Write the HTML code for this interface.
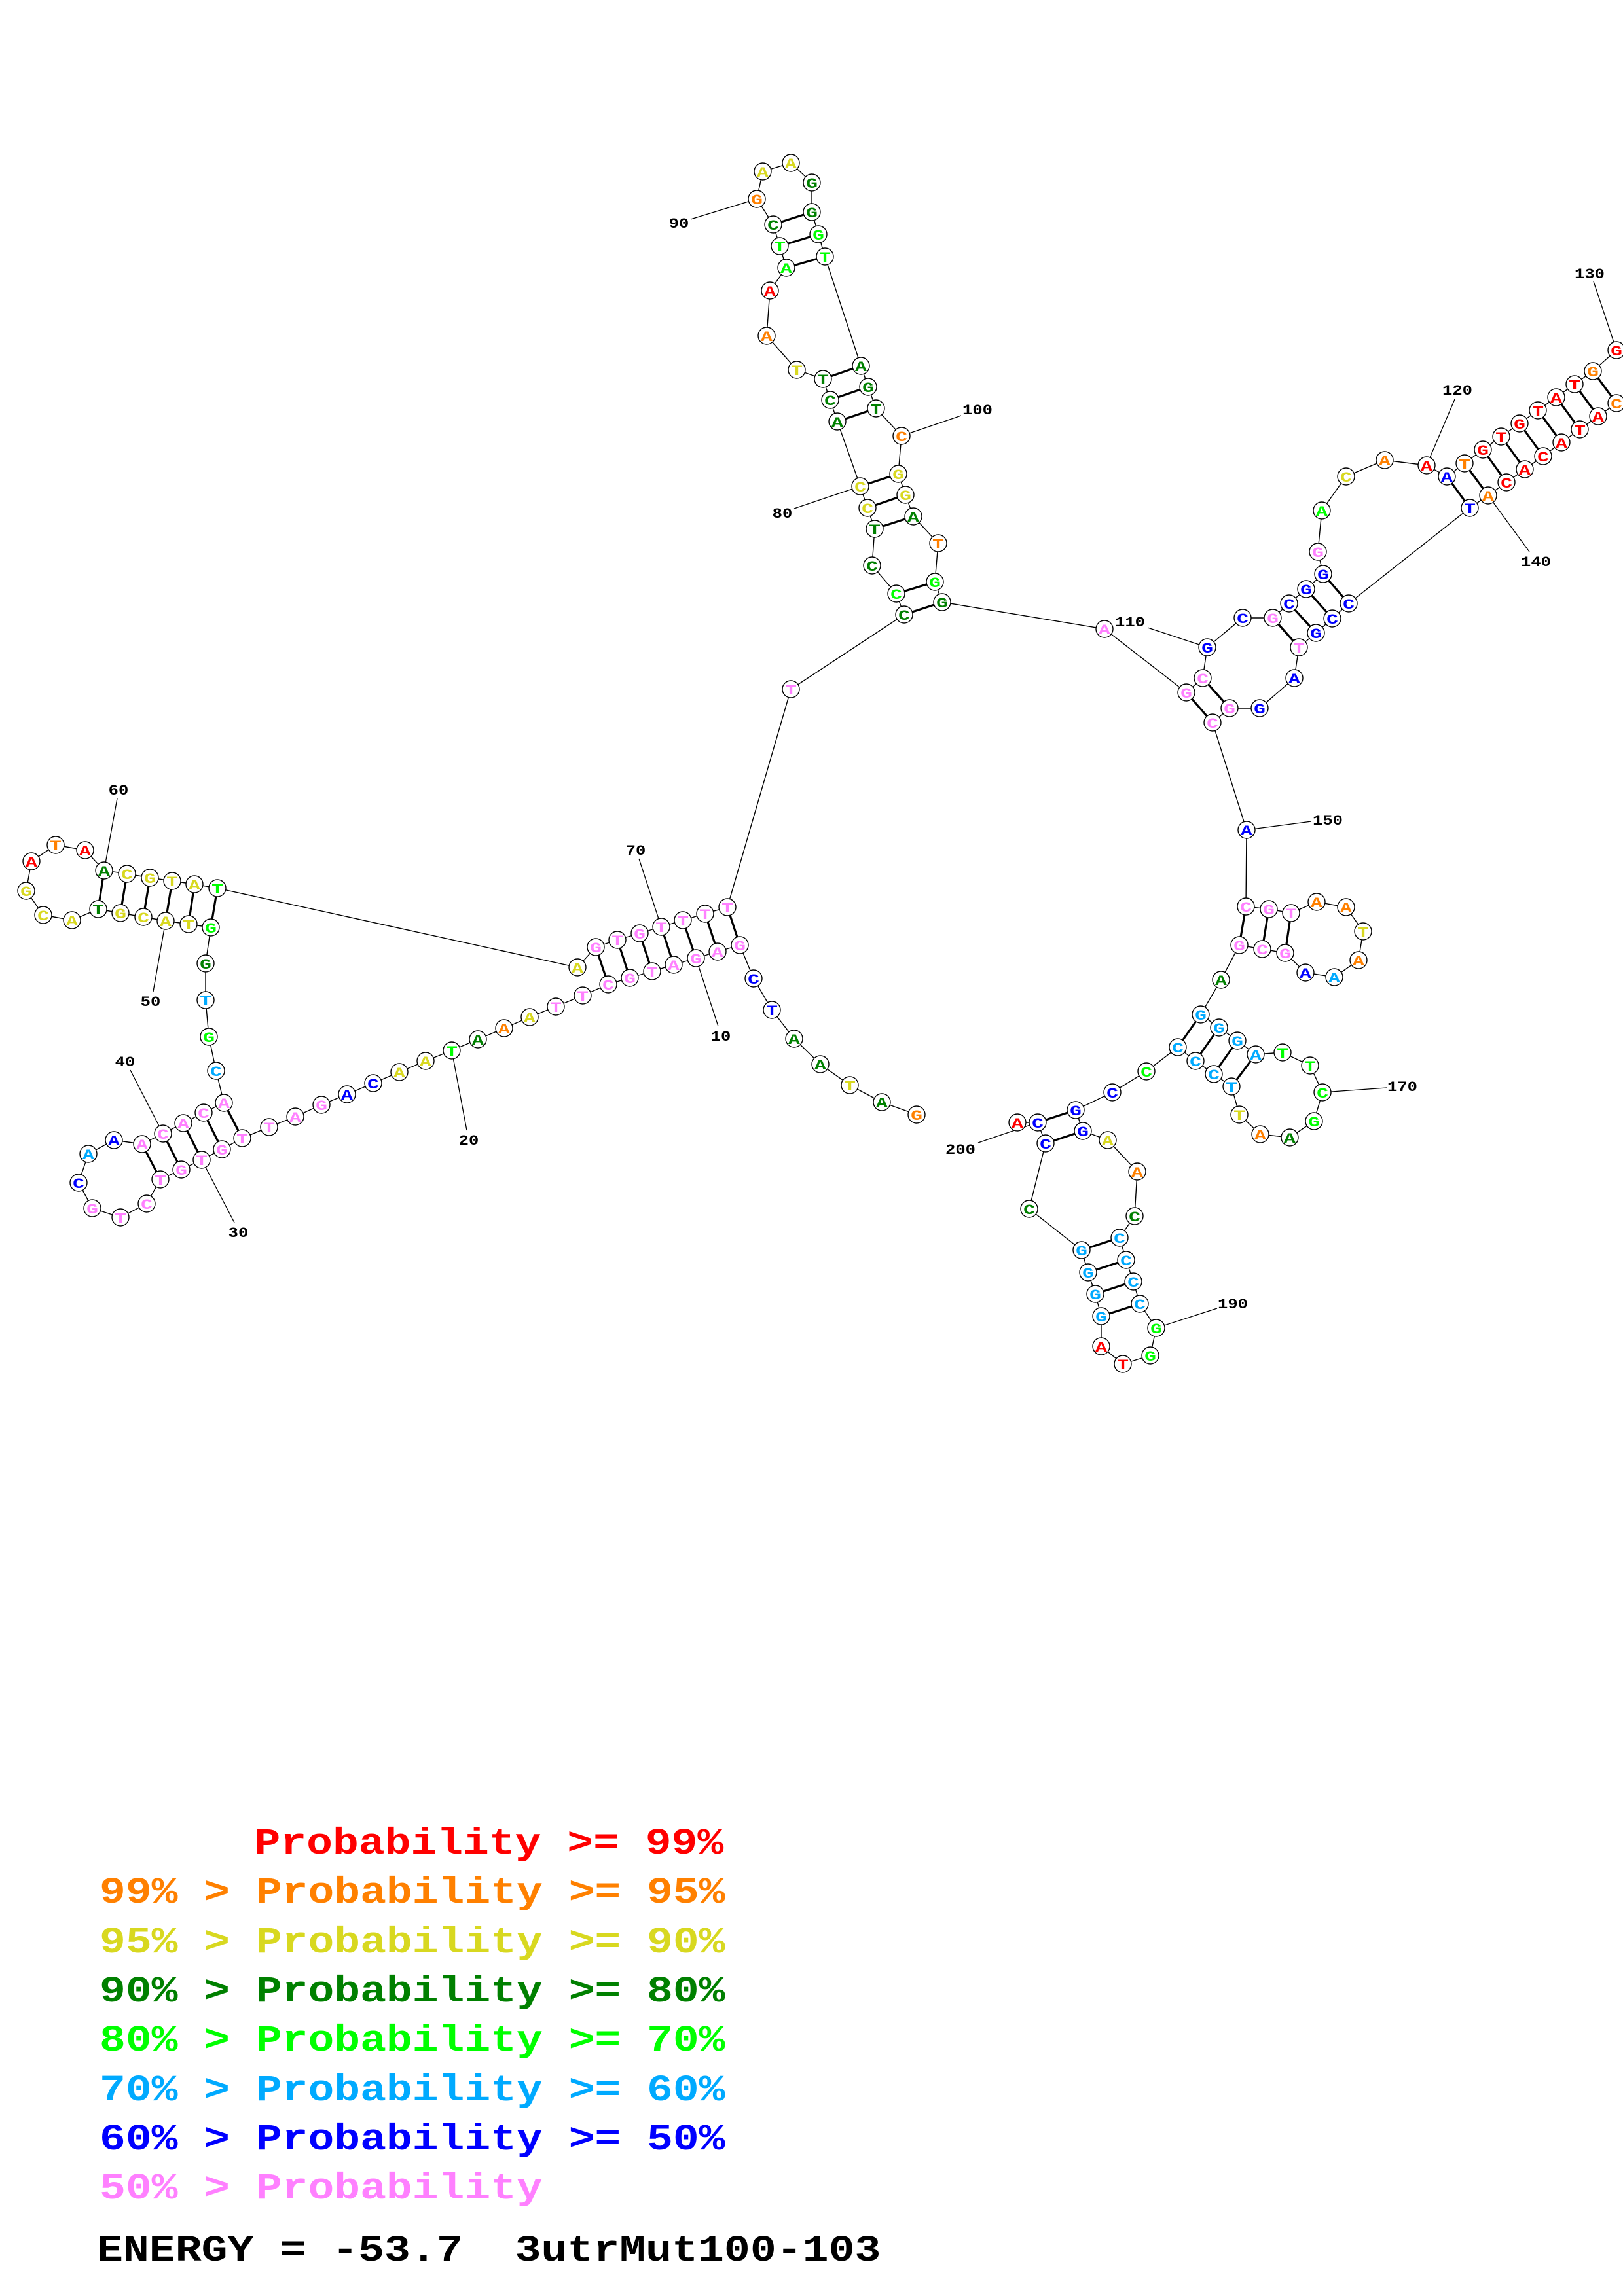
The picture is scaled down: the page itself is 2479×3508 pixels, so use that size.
<!DOCTYPE html>
<html><head><meta charset="utf-8">
<style>
html,body{margin:0;padding:0;background:#fff}
svg{display:block}
circle{fill:#fff;stroke:#000;stroke-width:1.4}
.n text{font:bold 22px "Liberation Mono",monospace;text-anchor:middle;transform-box:fill-box;transform-origin:center;transform:scaleX(1.35)}
.r{fill:#f00}.o{fill:#ff8000}.y{fill:#d8d820}.d{fill:#008000}.g{fill:#0f0}.c{fill:#0af}.b{fill:#00f}.p{fill:#ff80ff}
.l{font:bold 22px "Liberation Mono",monospace;text-anchor:middle;fill:#000;transform-box:fill-box;transform-origin:center;transform:scaleX(1.16)}
.t{font:bold 57px "Liberation Mono",monospace}
.bb{fill:none;stroke:#000;stroke-width:1.4}
.pr{stroke:#000;stroke-width:3.2}
.ln{stroke:#000;stroke-width:1.3}
</style></head><body>
<svg xmlns="http://www.w3.org/2000/svg" width="2479" height="3508" viewBox="0 0 2479 3508">
<rect width="2479" height="3508" fill="#fff"/>
<polyline class="bb" points="1400,1703 1347,1684 1298,1658 1253,1626 1213,1587 1179,1543 1151,1495 1130,1444 1096,1454 1063,1464 1029,1474 996,1484 962,1494 929,1504 890,1521 849,1538 809,1554 770,1571 730,1588 690,1605 650,1621 610,1638 570,1655 530,1672 491,1688 451,1706 411,1722 370,1739 339,1756 308,1772 277,1787 245,1802 224,1839 184,1860 141,1846 120,1807 135,1763 174,1742 217,1748 249,1732 280,1716 311,1700 342,1685 330,1636 319,1584 314,1528 314,1472 322,1417 288,1412 253,1407 219,1401 184,1395 150,1389 110,1406 66,1398 40,1361 48,1316 85,1291 130,1299 159,1330 194,1335 229,1341 263,1346 297,1351 332,1357 882,1478 910,1447 943,1436 977,1426 1010,1416 1043,1406 1077,1396 1111,1386 1208,1053 1381,939 1369,907 1332,864 1336,808 1325,776 1314,743 1279,644 1268,611 1257,579 1217,565 1171,513 1176,444 1201,409 1191,376 1181,343 1156,304 1165,262 1208,249 1240,279 1240,324 1250,358 1260,392 1315,559 1326,591 1338,624 1377,666 1372,724 1383,756 1395,789 1433,830 1428,889 1439,920 1687,961 1812,1058 1837,1036 1844,989 1898,944 1944,944 1969,922 1995,900 2021,877 2013,843 2019,780 2056,728 2115,703 2179,711 2210,728 2237,708 2265,687 2293,667 2321,647 2349,627 2377,607 2405,587 2433,567 2469,535 2510,555 2510,600 2469,616 2441,636 2413,656 2385,676 2357,697 2329,717 2301,737 2273,757 2245,776 2060,922 2035,945 2010,967 1984,989 1977,1036 1924,1082 1878,1082 1852,1104 1904,1268 1903,1385 1938,1389 1972,1395 2011,1378 2056,1386 2082,1423 2075,1467 2038,1493 1994,1486 1963,1456 1928,1450 1893,1444 1865,1497 1834,1550 1862,1570 1890,1590 1918,1611 1959,1608 2001,1628 2020,1669 2007,1713 1970,1738 1925,1733 1893,1703 1881,1660 1854,1641 1826,1621 1799,1600 1751,1637 1699,1669 1643,1696 1654,1728 1692,1742 1737,1790 1733,1858 1710,1891 1720,1925 1731,1958 1741,1992 1766,2029 1757,2071 1715,2084 1682,2057 1682,2011 1673,1977 1662,1944 1652,1910 1572,1847 1597,1747 1585,1715 1554,1715"/>
<g class="pr">
<line x1="1130" y1="1444" x2="1111" y2="1386"/><line x1="1096" y1="1454" x2="1077" y2="1396"/><line x1="1063" y1="1464" x2="1043" y2="1406"/><line x1="1029" y1="1474" x2="1010" y2="1416"/><line x1="996" y1="1484" x2="977" y2="1426"/><line x1="962" y1="1494" x2="943" y2="1436"/><line x1="929" y1="1504" x2="910" y2="1447"/>
<line x1="370" y1="1739" x2="342" y2="1685"/><line x1="339" y1="1756" x2="311" y2="1700"/><line x1="308" y1="1772" x2="280" y2="1716"/><line x1="277" y1="1787" x2="249" y2="1732"/><line x1="245" y1="1802" x2="217" y2="1748"/>
<line x1="322" y1="1417" x2="332" y2="1357"/><line x1="288" y1="1412" x2="297" y2="1351"/><line x1="253" y1="1407" x2="263" y2="1346"/><line x1="219" y1="1401" x2="229" y2="1341"/><line x1="184" y1="1395" x2="194" y2="1335"/><line x1="150" y1="1389" x2="159" y2="1330"/>
<line x1="1381" y1="939" x2="1439" y2="920"/><line x1="1369" y1="907" x2="1428" y2="889"/><line x1="1336" y1="808" x2="1395" y2="789"/><line x1="1325" y1="776" x2="1383" y2="756"/><line x1="1314" y1="743" x2="1372" y2="724"/><line x1="1279" y1="644" x2="1338" y2="624"/><line x1="1268" y1="611" x2="1326" y2="591"/><line x1="1257" y1="579" x2="1315" y2="559"/><line x1="1201" y1="409" x2="1260" y2="392"/><line x1="1191" y1="376" x2="1250" y2="358"/><line x1="1181" y1="343" x2="1240" y2="324"/>
<line x1="1812" y1="1058" x2="1852" y2="1104"/><line x1="1837" y1="1036" x2="1878" y2="1082"/><line x1="1944" y1="944" x2="1984" y2="989"/><line x1="1969" y1="922" x2="2010" y2="967"/><line x1="1995" y1="900" x2="2035" y2="945"/><line x1="2021" y1="877" x2="2060" y2="922"/>
<line x1="2210" y1="728" x2="2245" y2="776"/><line x1="2237" y1="708" x2="2273" y2="757"/><line x1="2265" y1="687" x2="2301" y2="737"/><line x1="2293" y1="667" x2="2329" y2="717"/><line x1="2321" y1="647" x2="2357" y2="697"/><line x1="2349" y1="627" x2="2385" y2="676"/><line x1="2377" y1="607" x2="2413" y2="656"/><line x1="2405" y1="587" x2="2441" y2="636"/><line x1="2433" y1="567" x2="2469" y2="616"/>
<line x1="1903" y1="1385" x2="1893" y2="1444"/><line x1="1938" y1="1389" x2="1928" y2="1450"/><line x1="1972" y1="1395" x2="1963" y2="1456"/>
<line x1="1834" y1="1550" x2="1799" y2="1600"/><line x1="1862" y1="1570" x2="1826" y2="1621"/><line x1="1890" y1="1590" x2="1854" y2="1641"/><line x1="1918" y1="1611" x2="1881" y2="1660"/>
<line x1="1643" y1="1696" x2="1585" y2="1715"/><line x1="1654" y1="1728" x2="1597" y2="1747"/>
<line x1="1710" y1="1891" x2="1652" y2="1910"/><line x1="1720" y1="1925" x2="1662" y2="1944"/><line x1="1731" y1="1958" x2="1673" y2="1977"/><line x1="1741" y1="1992" x2="1682" y2="2011"/>
</g>
<g class="ln">
<line x1="179" y1="1220" x2="159" y2="1330"/><line x1="234" y1="1515" x2="253" y2="1407"/><line x1="199" y1="1635" x2="249" y2="1732"/><line x1="358" y1="1868" x2="308" y2="1772"/><line x1="713" y1="1727" x2="690" y2="1605"/><line x1="976" y1="1312" x2="1010" y2="1416"/><line x1="1097" y1="1568" x2="1063" y2="1464"/><line x1="1055" y1="335" x2="1156" y2="304"/><line x1="1468" y1="635" x2="1377" y2="666"/><line x1="1213" y1="777" x2="1314" y2="743"/><line x1="1753" y1="959" x2="1844" y2="989"/><line x1="2222" y1="610" x2="2179" y2="711"/><line x1="2434" y1="430" x2="2469" y2="535"/><line x1="2336" y1="843" x2="2273" y2="757"/><line x1="2003" y1="1255" x2="1904" y2="1268"/><line x1="2118" y1="1662" x2="2020" y2="1669"/><line x1="1494" y1="1746" x2="1585" y2="1715"/><line x1="1859" y1="1999" x2="1766" y2="2029"/>
</g>
<g class="n">
<circle cx="1400" cy="1703" r="13"/><text x="1400" y="1711" class="o">G</text>
<circle cx="1347" cy="1684" r="13"/><text x="1347" y="1692" class="d">A</text>
<circle cx="1298" cy="1658" r="13"/><text x="1298" y="1666" class="y">T</text>
<circle cx="1253" cy="1626" r="13"/><text x="1253" y="1634" class="d">A</text>
<circle cx="1213" cy="1587" r="13"/><text x="1213" y="1595" class="d">A</text>
<circle cx="1179" cy="1543" r="13"/><text x="1179" y="1551" class="b">T</text>
<circle cx="1151" cy="1495" r="13"/><text x="1151" y="1503" class="b">C</text>
<circle cx="1130" cy="1444" r="13"/><text x="1130" y="1452" class="p">G</text>
<circle cx="1096" cy="1454" r="13"/><text x="1096" y="1462" class="p">A</text>
<circle cx="1063" cy="1464" r="13"/><text x="1063" y="1472" class="p">G</text>
<circle cx="1029" cy="1474" r="13"/><text x="1029" y="1482" class="p">A</text>
<circle cx="996" cy="1484" r="13"/><text x="996" y="1492" class="p">T</text>
<circle cx="962" cy="1494" r="13"/><text x="962" y="1502" class="p">G</text>
<circle cx="929" cy="1504" r="13"/><text x="929" y="1512" class="p">C</text>
<circle cx="890" cy="1521" r="13"/><text x="890" y="1529" class="p">T</text>
<circle cx="849" cy="1538" r="13"/><text x="849" y="1546" class="p">T</text>
<circle cx="809" cy="1554" r="13"/><text x="809" y="1562" class="y">A</text>
<circle cx="770" cy="1571" r="13"/><text x="770" y="1579" class="o">A</text>
<circle cx="730" cy="1588" r="13"/><text x="730" y="1596" class="d">A</text>
<circle cx="690" cy="1605" r="13"/><text x="690" y="1613" class="g">T</text>
<circle cx="650" cy="1621" r="13"/><text x="650" y="1629" class="y">A</text>
<circle cx="610" cy="1638" r="13"/><text x="610" y="1646" class="y">A</text>
<circle cx="570" cy="1655" r="13"/><text x="570" y="1663" class="b">C</text>
<circle cx="530" cy="1672" r="13"/><text x="530" y="1680" class="b">A</text>
<circle cx="491" cy="1688" r="13"/><text x="491" y="1696" class="p">G</text>
<circle cx="451" cy="1706" r="13"/><text x="451" y="1714" class="p">A</text>
<circle cx="411" cy="1722" r="13"/><text x="411" y="1730" class="p">T</text>
<circle cx="370" cy="1739" r="13"/><text x="370" y="1747" class="p">T</text>
<circle cx="339" cy="1756" r="13"/><text x="339" y="1764" class="p">G</text>
<circle cx="308" cy="1772" r="13"/><text x="308" y="1780" class="p">T</text>
<circle cx="277" cy="1787" r="13"/><text x="277" y="1795" class="p">G</text>
<circle cx="245" cy="1802" r="13"/><text x="245" y="1810" class="p">T</text>
<circle cx="224" cy="1839" r="13"/><text x="224" y="1847" class="p">C</text>
<circle cx="184" cy="1860" r="13"/><text x="184" y="1868" class="p">T</text>
<circle cx="141" cy="1846" r="13"/><text x="141" y="1854" class="p">G</text>
<circle cx="120" cy="1807" r="13"/><text x="120" y="1815" class="b">C</text>
<circle cx="135" cy="1763" r="13"/><text x="135" y="1771" class="c">A</text>
<circle cx="174" cy="1742" r="13"/><text x="174" y="1750" class="b">A</text>
<circle cx="217" cy="1748" r="13"/><text x="217" y="1756" class="p">A</text>
<circle cx="249" cy="1732" r="13"/><text x="249" y="1740" class="p">C</text>
<circle cx="280" cy="1716" r="13"/><text x="280" y="1724" class="p">A</text>
<circle cx="311" cy="1700" r="13"/><text x="311" y="1708" class="p">C</text>
<circle cx="342" cy="1685" r="13"/><text x="342" y="1693" class="p">A</text>
<circle cx="330" cy="1636" r="13"/><text x="330" y="1644" class="c">C</text>
<circle cx="319" cy="1584" r="13"/><text x="319" y="1592" class="g">G</text>
<circle cx="314" cy="1528" r="13"/><text x="314" y="1536" class="c">T</text>
<circle cx="314" cy="1472" r="13"/><text x="314" y="1480" class="d">G</text>
<circle cx="322" cy="1417" r="13"/><text x="322" y="1425" class="g">G</text>
<circle cx="288" cy="1412" r="13"/><text x="288" y="1420" class="y">T</text>
<circle cx="253" cy="1407" r="13"/><text x="253" y="1415" class="y">A</text>
<circle cx="219" cy="1401" r="13"/><text x="219" y="1409" class="y">C</text>
<circle cx="184" cy="1395" r="13"/><text x="184" y="1403" class="y">G</text>
<circle cx="150" cy="1389" r="13"/><text x="150" y="1397" class="d">T</text>
<circle cx="110" cy="1406" r="13"/><text x="110" y="1414" class="y">A</text>
<circle cx="66" cy="1398" r="13"/><text x="66" y="1406" class="y">C</text>
<circle cx="40" cy="1361" r="13"/><text x="40" y="1369" class="y">G</text>
<circle cx="48" cy="1316" r="13"/><text x="48" y="1324" class="r">A</text>
<circle cx="85" cy="1291" r="13"/><text x="85" y="1299" class="o">T</text>
<circle cx="130" cy="1299" r="13"/><text x="130" y="1307" class="r">A</text>
<circle cx="159" cy="1330" r="13"/><text x="159" y="1338" class="d">A</text>
<circle cx="194" cy="1335" r="13"/><text x="194" y="1343" class="y">C</text>
<circle cx="229" cy="1341" r="13"/><text x="229" y="1349" class="y">G</text>
<circle cx="263" cy="1346" r="13"/><text x="263" y="1354" class="y">T</text>
<circle cx="297" cy="1351" r="13"/><text x="297" y="1359" class="y">A</text>
<circle cx="332" cy="1357" r="13"/><text x="332" y="1365" class="g">T</text>
<circle cx="882" cy="1478" r="13"/><text x="882" y="1486" class="y">A</text>
<circle cx="910" cy="1447" r="13"/><text x="910" y="1455" class="p">G</text>
<circle cx="943" cy="1436" r="13"/><text x="943" y="1444" class="p">T</text>
<circle cx="977" cy="1426" r="13"/><text x="977" y="1434" class="p">G</text>
<circle cx="1010" cy="1416" r="13"/><text x="1010" y="1424" class="p">T</text>
<circle cx="1043" cy="1406" r="13"/><text x="1043" y="1414" class="p">T</text>
<circle cx="1077" cy="1396" r="13"/><text x="1077" y="1404" class="p">T</text>
<circle cx="1111" cy="1386" r="13"/><text x="1111" y="1394" class="p">T</text>
<circle cx="1208" cy="1053" r="13"/><text x="1208" y="1061" class="p">T</text>
<circle cx="1381" cy="939" r="13"/><text x="1381" y="947" class="d">C</text>
<circle cx="1369" cy="907" r="13"/><text x="1369" y="915" class="g">C</text>
<circle cx="1332" cy="864" r="13"/><text x="1332" y="872" class="d">C</text>
<circle cx="1336" cy="808" r="13"/><text x="1336" y="816" class="d">T</text>
<circle cx="1325" cy="776" r="13"/><text x="1325" y="784" class="y">C</text>
<circle cx="1314" cy="743" r="13"/><text x="1314" y="751" class="y">C</text>
<circle cx="1279" cy="644" r="13"/><text x="1279" y="652" class="d">A</text>
<circle cx="1268" cy="611" r="13"/><text x="1268" y="619" class="d">C</text>
<circle cx="1257" cy="579" r="13"/><text x="1257" y="587" class="d">T</text>
<circle cx="1217" cy="565" r="13"/><text x="1217" y="573" class="y">T</text>
<circle cx="1171" cy="513" r="13"/><text x="1171" y="521" class="o">A</text>
<circle cx="1176" cy="444" r="13"/><text x="1176" y="452" class="r">A</text>
<circle cx="1201" cy="409" r="13"/><text x="1201" y="417" class="g">A</text>
<circle cx="1191" cy="376" r="13"/><text x="1191" y="384" class="g">T</text>
<circle cx="1181" cy="343" r="13"/><text x="1181" y="351" class="d">C</text>
<circle cx="1156" cy="304" r="13"/><text x="1156" y="312" class="o">G</text>
<circle cx="1165" cy="262" r="13"/><text x="1165" y="270" class="y">A</text>
<circle cx="1208" cy="249" r="13"/><text x="1208" y="257" class="y">A</text>
<circle cx="1240" cy="279" r="13"/><text x="1240" y="287" class="d">G</text>
<circle cx="1240" cy="324" r="13"/><text x="1240" y="332" class="d">G</text>
<circle cx="1250" cy="358" r="13"/><text x="1250" y="366" class="g">G</text>
<circle cx="1260" cy="392" r="13"/><text x="1260" y="400" class="g">T</text>
<circle cx="1315" cy="559" r="13"/><text x="1315" y="567" class="d">A</text>
<circle cx="1326" cy="591" r="13"/><text x="1326" y="599" class="d">G</text>
<circle cx="1338" cy="624" r="13"/><text x="1338" y="632" class="d">T</text>
<circle cx="1377" cy="666" r="13"/><text x="1377" y="674" class="o">C</text>
<circle cx="1372" cy="724" r="13"/><text x="1372" y="732" class="y">G</text>
<circle cx="1383" cy="756" r="13"/><text x="1383" y="764" class="y">G</text>
<circle cx="1395" cy="789" r="13"/><text x="1395" y="797" class="d">A</text>
<circle cx="1433" cy="830" r="13"/><text x="1433" y="838" class="o">T</text>
<circle cx="1428" cy="889" r="13"/><text x="1428" y="897" class="g">G</text>
<circle cx="1439" cy="920" r="13"/><text x="1439" y="928" class="d">G</text>
<circle cx="1687" cy="961" r="13"/><text x="1687" y="969" class="p">A</text>
<circle cx="1812" cy="1058" r="13"/><text x="1812" y="1066" class="p">G</text>
<circle cx="1837" cy="1036" r="13"/><text x="1837" y="1044" class="p">C</text>
<circle cx="1844" cy="989" r="13"/><text x="1844" y="997" class="b">G</text>
<circle cx="1898" cy="944" r="13"/><text x="1898" y="952" class="b">C</text>
<circle cx="1944" cy="944" r="13"/><text x="1944" y="952" class="p">G</text>
<circle cx="1969" cy="922" r="13"/><text x="1969" y="930" class="b">C</text>
<circle cx="1995" cy="900" r="13"/><text x="1995" y="908" class="b">G</text>
<circle cx="2021" cy="877" r="13"/><text x="2021" y="885" class="b">G</text>
<circle cx="2013" cy="843" r="13"/><text x="2013" y="851" class="p">G</text>
<circle cx="2019" cy="780" r="13"/><text x="2019" y="788" class="g">A</text>
<circle cx="2056" cy="728" r="13"/><text x="2056" y="736" class="y">C</text>
<circle cx="2115" cy="703" r="13"/><text x="2115" y="711" class="o">A</text>
<circle cx="2179" cy="711" r="13"/><text x="2179" y="719" class="r">A</text>
<circle cx="2210" cy="728" r="13"/><text x="2210" y="736" class="b">A</text>
<circle cx="2237" cy="708" r="13"/><text x="2237" y="716" class="o">T</text>
<circle cx="2265" cy="687" r="13"/><text x="2265" y="695" class="r">G</text>
<circle cx="2293" cy="667" r="13"/><text x="2293" y="675" class="r">T</text>
<circle cx="2321" cy="647" r="13"/><text x="2321" y="655" class="r">G</text>
<circle cx="2349" cy="627" r="13"/><text x="2349" y="635" class="r">T</text>
<circle cx="2377" cy="607" r="13"/><text x="2377" y="615" class="r">A</text>
<circle cx="2405" cy="587" r="13"/><text x="2405" y="595" class="r">T</text>
<circle cx="2433" cy="567" r="13"/><text x="2433" y="575" class="o">G</text>
<circle cx="2469" cy="535" r="13"/><text x="2469" y="543" class="r">G</text>
<circle cx="2469" cy="616" r="13"/><text x="2469" y="624" class="o">C</text>
<circle cx="2441" cy="636" r="13"/><text x="2441" y="644" class="r">A</text>
<circle cx="2413" cy="656" r="13"/><text x="2413" y="664" class="r">T</text>
<circle cx="2385" cy="676" r="13"/><text x="2385" y="684" class="r">A</text>
<circle cx="2357" cy="697" r="13"/><text x="2357" y="705" class="r">C</text>
<circle cx="2329" cy="717" r="13"/><text x="2329" y="725" class="r">A</text>
<circle cx="2301" cy="737" r="13"/><text x="2301" y="745" class="r">C</text>
<circle cx="2273" cy="757" r="13"/><text x="2273" y="765" class="o">A</text>
<circle cx="2245" cy="776" r="13"/><text x="2245" y="784" class="b">T</text>
<circle cx="2060" cy="922" r="13"/><text x="2060" y="930" class="b">C</text>
<circle cx="2035" cy="945" r="13"/><text x="2035" y="953" class="b">C</text>
<circle cx="2010" cy="967" r="13"/><text x="2010" y="975" class="b">G</text>
<circle cx="1984" cy="989" r="13"/><text x="1984" y="997" class="p">T</text>
<circle cx="1977" cy="1036" r="13"/><text x="1977" y="1044" class="b">A</text>
<circle cx="1924" cy="1082" r="13"/><text x="1924" y="1090" class="b">G</text>
<circle cx="1878" cy="1082" r="13"/><text x="1878" y="1090" class="p">G</text>
<circle cx="1852" cy="1104" r="13"/><text x="1852" y="1112" class="p">C</text>
<circle cx="1904" cy="1268" r="13"/><text x="1904" y="1276" class="b">A</text>
<circle cx="1903" cy="1385" r="13"/><text x="1903" y="1393" class="p">C</text>
<circle cx="1938" cy="1389" r="13"/><text x="1938" y="1397" class="p">G</text>
<circle cx="1972" cy="1395" r="13"/><text x="1972" y="1403" class="p">T</text>
<circle cx="2011" cy="1378" r="13"/><text x="2011" y="1386" class="o">A</text>
<circle cx="2056" cy="1386" r="13"/><text x="2056" y="1394" class="o">A</text>
<circle cx="2082" cy="1423" r="13"/><text x="2082" y="1431" class="y">T</text>
<circle cx="2075" cy="1467" r="13"/><text x="2075" y="1475" class="o">A</text>
<circle cx="2038" cy="1493" r="13"/><text x="2038" y="1501" class="c">A</text>
<circle cx="1994" cy="1486" r="13"/><text x="1994" y="1494" class="b">A</text>
<circle cx="1963" cy="1456" r="13"/><text x="1963" y="1464" class="p">G</text>
<circle cx="1928" cy="1450" r="13"/><text x="1928" y="1458" class="p">C</text>
<circle cx="1893" cy="1444" r="13"/><text x="1893" y="1452" class="p">G</text>
<circle cx="1865" cy="1497" r="13"/><text x="1865" y="1505" class="d">A</text>
<circle cx="1834" cy="1550" r="13"/><text x="1834" y="1558" class="c">G</text>
<circle cx="1862" cy="1570" r="13"/><text x="1862" y="1578" class="c">G</text>
<circle cx="1890" cy="1590" r="13"/><text x="1890" y="1598" class="c">G</text>
<circle cx="1918" cy="1611" r="13"/><text x="1918" y="1619" class="c">A</text>
<circle cx="1959" cy="1608" r="13"/><text x="1959" y="1616" class="g">T</text>
<circle cx="2001" cy="1628" r="13"/><text x="2001" y="1636" class="g">T</text>
<circle cx="2020" cy="1669" r="13"/><text x="2020" y="1677" class="g">C</text>
<circle cx="2007" cy="1713" r="13"/><text x="2007" y="1721" class="g">G</text>
<circle cx="1970" cy="1738" r="13"/><text x="1970" y="1746" class="d">A</text>
<circle cx="1925" cy="1733" r="13"/><text x="1925" y="1741" class="o">A</text>
<circle cx="1893" cy="1703" r="13"/><text x="1893" y="1711" class="y">T</text>
<circle cx="1881" cy="1660" r="13"/><text x="1881" y="1668" class="c">T</text>
<circle cx="1854" cy="1641" r="13"/><text x="1854" y="1649" class="c">C</text>
<circle cx="1826" cy="1621" r="13"/><text x="1826" y="1629" class="c">C</text>
<circle cx="1799" cy="1600" r="13"/><text x="1799" y="1608" class="c">C</text>
<circle cx="1751" cy="1637" r="13"/><text x="1751" y="1645" class="g">C</text>
<circle cx="1699" cy="1669" r="13"/><text x="1699" y="1677" class="b">C</text>
<circle cx="1643" cy="1696" r="13"/><text x="1643" y="1704" class="b">G</text>
<circle cx="1654" cy="1728" r="13"/><text x="1654" y="1736" class="b">G</text>
<circle cx="1692" cy="1742" r="13"/><text x="1692" y="1750" class="y">A</text>
<circle cx="1737" cy="1790" r="13"/><text x="1737" y="1798" class="o">A</text>
<circle cx="1733" cy="1858" r="13"/><text x="1733" y="1866" class="d">C</text>
<circle cx="1710" cy="1891" r="13"/><text x="1710" y="1899" class="c">C</text>
<circle cx="1720" cy="1925" r="13"/><text x="1720" y="1933" class="c">C</text>
<circle cx="1731" cy="1958" r="13"/><text x="1731" y="1966" class="c">C</text>
<circle cx="1741" cy="1992" r="13"/><text x="1741" y="2000" class="c">C</text>
<circle cx="1766" cy="2029" r="13"/><text x="1766" y="2037" class="g">G</text>
<circle cx="1757" cy="2071" r="13"/><text x="1757" y="2079" class="g">G</text>
<circle cx="1715" cy="2084" r="13"/><text x="1715" y="2092" class="r">T</text>
<circle cx="1682" cy="2057" r="13"/><text x="1682" y="2065" class="r">A</text>
<circle cx="1682" cy="2011" r="13"/><text x="1682" y="2019" class="c">G</text>
<circle cx="1673" cy="1977" r="13"/><text x="1673" y="1985" class="c">G</text>
<circle cx="1662" cy="1944" r="13"/><text x="1662" y="1952" class="c">G</text>
<circle cx="1652" cy="1910" r="13"/><text x="1652" y="1918" class="c">G</text>
<circle cx="1572" cy="1847" r="13"/><text x="1572" y="1855" class="d">C</text>
<circle cx="1597" cy="1747" r="13"/><text x="1597" y="1755" class="b">C</text>
<circle cx="1585" cy="1715" r="13"/><text x="1585" y="1723" class="b">C</text>
<circle cx="1554" cy="1715" r="13"/><text x="1554" y="1723" class="r">A</text>
</g>
<g>
<text class="l" x="1101" y="1590">10</text>
<text class="l" x="716" y="1749">20</text>
<text class="l" x="364" y="1890">30</text>
<text class="l" x="191" y="1629">40</text>
<text class="l" x="230" y="1537">50</text>
<text class="l" x="181" y="1214">60</text>
<text class="l" x="971" y="1306">70</text>
<text class="l" x="1195" y="791">80</text>
<text class="l" x="1037" y="348">90</text>
<text class="l" x="1493" y="633">100</text>
<text class="l" x="1726" y="957">110</text>
<text class="l" x="2226" y="603">120</text>
<text class="l" x="2428" y="425">130</text>
<text class="l" x="2346" y="865">140</text>
<text class="l" x="2028" y="1260">150</text>
<text class="l" x="2142" y="1667">170</text>
<text class="l" x="1883" y="1999">190</text>
<text class="l" x="1467" y="1763">200</text>
</g>
<g class="t" transform="scale(1.164,1)">
<text x="333.8" y="2832" class="r" xml:space="preserve">Probability &gt;= 99%</text>
<text x="130.6" y="2907" class="o" xml:space="preserve">99% &gt; Probability &gt;= 95%</text>
<text x="130.6" y="2983" class="y" xml:space="preserve">95% &gt; Probability &gt;= 90%</text>
<text x="130.6" y="3058" class="d" xml:space="preserve">90% &gt; Probability &gt;= 80%</text>
<text x="130.6" y="3133" class="g" xml:space="preserve">80% &gt; Probability &gt;= 70%</text>
<text x="130.6" y="3209" class="c" xml:space="preserve">70% &gt; Probability &gt;= 60%</text>
<text x="130.6" y="3284" class="b" xml:space="preserve">60% &gt; Probability &gt;= 50%</text>
<text x="130.6" y="3359" class="p" xml:space="preserve">50% &gt; Probability</text>
</g>
<g class="t" transform="scale(1.167,1)">
<text x="126.8" y="3454" fill="#000" xml:space="preserve">ENERGY = -53.7  3utrMut100-103</text>
</g>
</svg>
</body></html>
